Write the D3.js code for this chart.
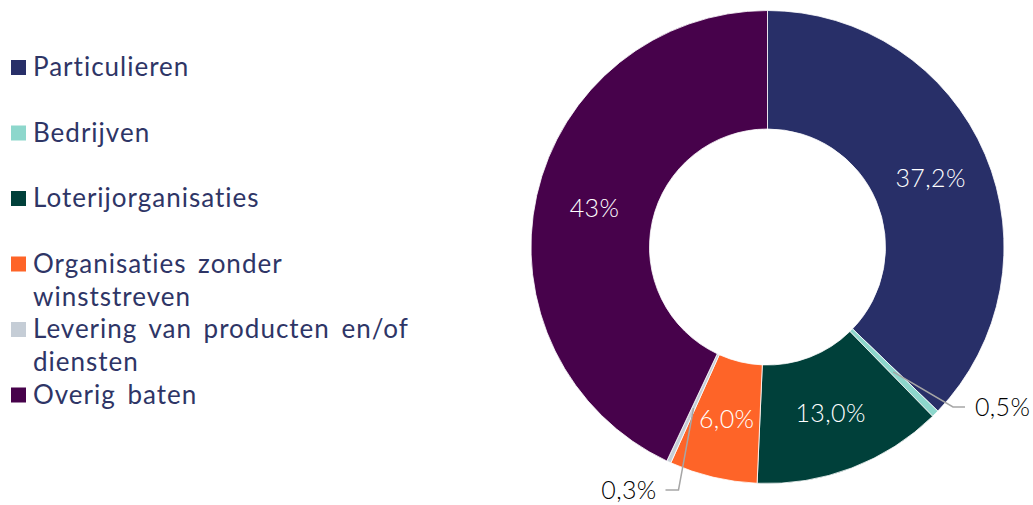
<!DOCTYPE html>
<html>
<head>
<meta charset="utf-8">
<script src="https://cdn.jsdelivr.net/npm/d3@7"></script>
<style>
  body { margin: 0; background: #fff; }
  svg { font-family: Lato, "Noto Sans", sans-serif; }
</style>
</head>
<body>
<svg id="chart" width="1033" height="505"></svg>
<script>
// Baten per bron (percentages)
const categories = [
  "Particulieren",
  "Bedrijven",
  "Loterijorganisaties",
  "Organisaties zonder winststreven",
  "Levering van producten en/of diensten",
  "Overig baten"
];
const values = [37.2, 0.5, 13.0, 6.0, 0.3, 43];
const valueLabels = ["37,2%", "0,5%", "13,0%", "6,0%", "0,3%", "43%"];
const legendLines = [
  ["Particulieren"],
  ["Bedrijven"],
  ["Loterijorganisaties"],
  ["Organisaties zonder", "winststreven"],
  ["Levering van producten en/of", "diensten"],
  ["Overig baten"]
];
const colors = ["#282f68", "#8dd7cc", "#00403a", "#fe6428", "#c5cdd6", "#47024b"];

const data = categories.map((c, i) => ({ name: c, value: values[i], label: valueLabels[i], lines: legendLines[i] }));

const svg = d3.select("#chart");
const cx = 767.5, cy = 247,
  outerR = 236.5, innerR = 118;

const color = d3.scaleOrdinal().domain(categories).range(colors);

const pie = d3.pie().sort(null).value((d) => d.value);
const arc = d3.arc().innerRadius(innerR).outerRadius(outerR);
const arcs = pie(data);

const g = svg.append("g").attr("transform", `translate(${cx},${cy})`);

g.selectAll("path.slice")
  .data(arcs)
  .enter()
  .append("path")
  .attr("class", "slice")
  .attr("d", arc)
  .attr("fill", (d) => color(d.data.name))
  .attr("stroke", "#fff")
  .attr("stroke-width", 0.8);

// labels inside the big slices
const inside = arcs.filter((d) => d.data.value >= 1);
g.selectAll("text.inlabel")
  .data(inside)
  .enter()
  .append("text")
  .attr("class", "inlabel")
  .attr("transform", (d) => `translate(${arc.centroid(d)})`)
  .attr("text-anchor", "middle")
  .attr("dy", "0.36em")
  .attr("fill", "#fff")
  .style("font-size", "25px")
  .style("font-weight", 300)
  .style("letter-spacing", "0.4px")
  .text((d) => d.data.label);

// small slices: leader lines + outside labels
const outside = arcs.filter((d) => d.data.value < 1);

outside.forEach((d) => {
  const p0 = arc.centroid(d);
  const mid = (d.startAngle + d.endAngle) / 2;
  const right = mid < Math.PI;
  let p1, p2, tx, anchor;
  if (right) {
    p1 = [185.5, 160];
    p2 = [p1[0] + 12, p1[1]];
    tx = p2[0] + 10;
    anchor = "start";
  } else {
    p1 = [-89, 243];
    p2 = [p1[0] - 13, p1[1]];
    tx = p2[0] - 9;
    anchor = "end";
  }
  g.append("polyline")
    .attr("points", [p0, p1, p2].map((p) => p.join(",")).join(" "))
    .attr("fill", "none")
    .attr("stroke", "#a6a6a6")
    .attr("stroke-width", 1.5);
  g.append("text")
    .attr("x", tx)
    .attr("y", p2[1])
    .attr("dy", "0.36em")
    .attr("text-anchor", anchor)
    .attr("fill", "#000")
    .style("font-size", "25px")
    .style("font-weight", 300)
    .style("letter-spacing", "0.3px")
    .text(d.data.label);
});

// legend
const legend = svg.append("g").attr("class", "legend");
const item = legend.selectAll("g")
  .data(data)
  .enter()
  .append("g")
  .attr("transform", (d, i) => `translate(0,${76 + i * 65.5})`);

item.append("rect")
  .attr("x", 11)
  .attr("y", -16)
  .attr("width", 15)
  .attr("height", 15)
  .attr("fill", (d) => color(d.name));

item.append("text")
  .attr("x", 33)
  .attr("fill", "#2e3566")
  .style("font-size", "26px")
  .style("letter-spacing", "1px")
  .style("word-spacing", "4px")
  .selectAll("tspan")
  .data((d) => d.lines)
  .enter()
  .append("tspan")
  .attr("x", 33)
  .attr("y", (d, i) => i * 33)
  .text((d) => d);
</script>
</body>
</html>
